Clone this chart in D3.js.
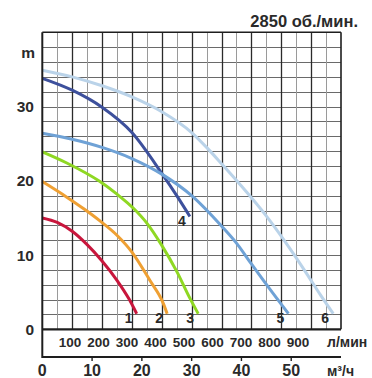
<!DOCTYPE html>
<html>
<head>
<meta charset="utf-8">
<script src="https://cdn.jsdelivr.net/npm/d3@7"></script>
<style>
  html, body { margin: 0; padding: 0; background: #fff; }
  svg { display: block; }
  text { font-family: "Liberation Sans", Arial, sans-serif; fill: #2a2a2a; }
</style>
</head>
<body>
<svg id="chart" width="372" height="378"></svg>
<script>
// Pump performance curves: head (m) against flow (l/min), 2850 rpm
const curve1Flow = [0, 50, 100, 150, 200, 250, 290, 316];
const curve1Head = [15.0, 14.4, 13.2, 11.4, 9.2, 6.6, 4.1, 2.1];
const curve2Flow = [0, 82, 140, 193, 249, 300, 360, 405, 418];
const curve2Head = [19.9, 17.8, 16.2, 14.6, 12.7, 10.4, 6.6, 3.5, 2.1];
const curve3Flow = [0, 82, 193, 250, 305, 350, 400, 450, 494, 522];
const curve3Head = [23.9, 22.4, 19.9, 18.2, 16.3, 14.3, 11.3, 7.8, 4.2, 2.1];
const curve4Flow = [0, 100, 200, 300, 400, 450, 494];
const curve4Head = [33.8, 32.2, 29.9, 26.5, 21.0, 18.0, 15.2];
const curve5Flow = [0, 100, 200, 300, 400, 500, 600, 650, 700, 760, 824];
const curve5Head = [26.4, 25.6, 24.5, 23.0, 20.9, 18.0, 13.9, 11.6, 8.8, 5.5, 2.1];
const curve6Flow = [0, 100, 200, 300, 400, 500, 550, 600, 662, 751, 818, 885, 930, 974];
const curve6Head = [34.9, 34.0, 32.8, 31.3, 29.3, 26.5, 24.5, 22.3, 19.5, 15.2, 11.5, 7.5, 4.7, 2.1];

const curveNames = ["1", "2", "3", "4", "5", "6"];
const curveColors = ["#c8163c", "#efa033", "#8fd823", "#3d509c", "#6fa2d6", "#bad3e9"];

const headTicks = [0, 10, 20, 30];
const lpmTicks = [100, 200, 300, 400, 500, 600, 700, 800, 900];
const m3hTicks = [0, 10, 20, 30, 40, 50];

const curves = [
  [curve1Flow, curve1Head], [curve2Flow, curve2Head], [curve3Flow, curve3Head],
  [curve4Flow, curve4Head], [curve5Flow, curve5Head], [curve6Flow, curve6Head]
].map(([f, h], i) => ({
  name: curveNames[i],
  color: curveColors[i],
  points: f.map((v, j) => [v, h[j]])
}));

const svg = d3.select("#chart");

// flow in l/min across the grid, head in metres up the grid
const x = d3.scaleLinear().domain([0, 1000]).range([42.3, 341]);
const y = d3.scaleLinear().domain([0, 40]).range([329.3, 32.3]);
// m³/h shares the same physical axis (60 m³/h = 1000 l/min)
const xM3h = d3.scaleLinear().domain([0, 60]).range([x(0), x(1000)]);
// l/min captions are set as an evenly spaced row inside the lower band
const xLpmLabel = d3.scaleLinear().domain([100, 900]).range([70, 298]);

const crisp = v => Math.round(v) + 0.5;
const axisBottomY = 357;

// grid
const grid = svg.append("g");
grid.selectAll("line.h")
  .data(d3.range(2, 40, 2))
  .join("line")
  .attr("x1", x(0)).attr("x2", x(1000))
  .attr("y1", d => crisp(y(d))).attr("y2", d => crisp(y(d)))
  .attr("stroke", "#6a6a6a").attr("stroke-width", 1);
grid.selectAll("line.v")
  .data(d3.range(50, 1000, 50))
  .join("line")
  .attr("x1", d => crisp(x(d))).attr("x2", d => crisp(x(d)))
  .attr("y1", y(40)).attr("y2", y(0))
  .attr("stroke", d => d % 100 === 0 ? "#2b2b2b" : "#9a9a9a")
  .attr("stroke-width", d => d % 100 === 0 ? 1.3 : 1);

// curves
const line = d3.line()
  .x(d => x(d[0]))
  .y(d => y(d[1]))
  .curve(d3.curveMonotoneX);

svg.append("g").selectAll("path")
  .data(curves)
  .join("path")
  .attr("d", d => line(d.points))
  .attr("fill", "none")
  .attr("stroke", d => d.color)
  .attr("stroke-width", 3);

// frame
const frame = svg.append("g").attr("stroke", "#1e1e1e").attr("fill", "none");
frame.append("line").attr("x1", x(0)).attr("x2", x(1000)).attr("y1", y(40)).attr("y2", y(40)).attr("stroke-width", 1.6);
frame.append("line").attr("x1", x(1000)).attr("x2", x(1000)).attr("y1", y(40)).attr("y2", y(0)).attr("stroke-width", 1.6);
frame.append("line").attr("x1", x(0)).attr("x2", x(0)).attr("y1", y(40)).attr("y2", axisBottomY + 1).attr("stroke-width", 2);
frame.append("line").attr("x1", x(0)).attr("x2", x(1000)).attr("y1", y(0)).attr("y2", y(0)).attr("stroke-width", 2.2);
frame.append("line").attr("x1", x(0)).attr("x2", x(1000)).attr("y1", axisBottomY).attr("y2", axisBottomY).attr("stroke-width", 2.2);
frame.selectAll("line.tick")
  .data(m3hTicks.slice(1))
  .join("line")
  .attr("x1", d => xM3h(d)).attr("x2", d => xM3h(d))
  .attr("y1", axisBottomY).attr("y2", axisBottomY + 4)
  .attr("stroke-width", 1.4);

// head labels
svg.append("g").selectAll("text")
  .data(headTicks)
  .join("text")
  .attr("x", 34)
  .attr("y", d => y(d))
  .attr("dy", "0.36em")
  .attr("text-anchor", "end")
  .attr("font-size", 15.5)
  .attr("font-weight", "bold")
  .text(d => d);
svg.append("text")
  .attr("x", 35).attr("y", 57.5)
  .attr("text-anchor", "end")
  .attr("font-size", 15.5)
  .attr("font-weight", "bold")
  .text("m");

// l/min labels
svg.append("g").selectAll("text")
  .data(lpmTicks)
  .join("text")
  .attr("x", d => xLpmLabel(d))
  .attr("y", 347)
  .attr("text-anchor", "middle")
  .attr("font-size", 13.5)
  .attr("font-weight", "bold")
  .text(d => d);
svg.append("text")
  .attr("x", 327).attr("y", 347)
  .attr("font-size", 14)
  .attr("font-weight", "bold")
  .text("л/мин");

// m³/h labels
svg.append("g").selectAll("text")
  .data(m3hTicks)
  .join("text")
  .attr("x", d => xM3h(d))
  .attr("y", 376)
  .attr("text-anchor", "middle")
  .attr("font-size", 16)
  .attr("font-weight", "bold")
  .text(d => d);
svg.append("text")
  .attr("x", 327).attr("y", 376)
  .attr("font-size", 14)
  .attr("font-weight", "bold")
  .text("м³/ч");

// speed caption
svg.append("text")
  .attr("x", 358).attr("y", 26.5)
  .attr("text-anchor", "end")
  .attr("font-size", 16.5)
  .attr("font-weight", "bold")
  .text("2850 об./мин.");

// curve numbers at the end of each curve
svg.append("g").selectAll("text")
  .data(curves)
  .join("text")
  .attr("x", d => x(d.points[d.points.length - 1][0]) - 8)
  .attr("y", d => y(d.points[d.points.length - 1][1]) + 9.5)
  .attr("text-anchor", "middle")
  .attr("font-size", 14)
  .attr("font-weight", "bold")
  .attr("fill", "#1e1e1e")
  .text(d => d.name);
</script>
</body>
</html>
